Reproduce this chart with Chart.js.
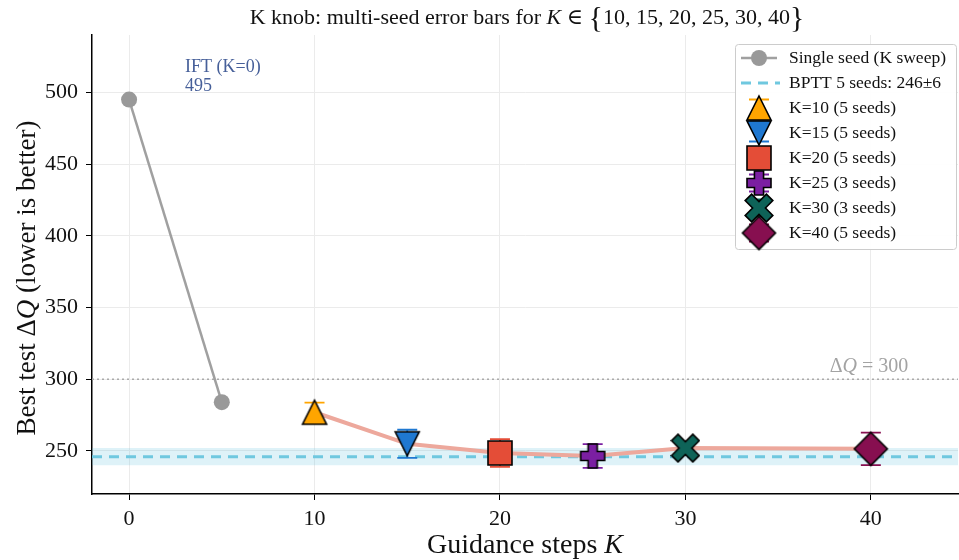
<!DOCTYPE html>
<html>
<head>
<meta charset="utf-8">
<script src="https://cdn.jsdelivr.net/npm/chart.js@4.4.1/dist/chart.umd.min.js"></script>
<style>
html,body{margin:0;padding:0;background:#fff;}
canvas{display:block;}
</style>
</head>
<body>
<canvas id="c" width="959" height="560"></canvas>
<script>
// ---- data ----
const singleK = [0, 5];
const singleQ = [495, 284];
const kValues = [10, 15, 20, 25, 30, 40];
const kMeans = [277, 255, 248.6, 246.5, 252, 251.5];
const kErrs = [6.7, 9.8, 9.6, 8.3, 4, 11.3];
const kSeeds = [5, 5, 5, 3, 3, 5];
const bpttMean = 246;
const bpttStd = 6;
const refLevel = 300;
const iftLabel = 495;
const xTicks = [0, 10, 20, 30, 40];
const yTicks = [250, 300, 350, 400, 450, 500];

// ---- styles ----
const FONT = "'Liberation Serif', 'DejaVu Serif', serif";
const X_MIN = -2, X_MAX = 44.7, Y_MIN = 220, Y_MAX = 540;
const markerStyles = [
  {shape: 'triUp', fill: '#FFA500', size: 24},
  {shape: 'triDown', fill: '#1f78d1', size: 24},
  {shape: 'square', fill: '#e44d37', size: 24},
  {shape: 'plus', fill: '#7b1fa2', size: 24},
  {shape: 'xfill', fill: '#0e6358', size: 24},
  {shape: 'diamond', fill: '#870f50', size: 33}
];

function makeMarker(st) {
  const s = st.size, pad = 3;
  const c = document.createElement('canvas');
  c.width = s + 2 * pad; c.height = s + 2 * pad;
  const g = c.getContext('2d');
  g.translate(c.width / 2, c.height / 2);
  const h = s / 2;
  g.beginPath();
  if (st.shape === 'triUp') {
    g.moveTo(0, -h); g.lineTo(h, h); g.lineTo(-h, h); g.closePath();
  } else if (st.shape === 'triDown') {
    g.moveTo(0, h); g.lineTo(h, -h); g.lineTo(-h, -h); g.closePath();
  } else if (st.shape === 'square') {
    g.rect(-h, -h, s, s);
  } else if (st.shape === 'diamond') {
    g.moveTo(0, -h); g.lineTo(h, 0); g.lineTo(0, h); g.lineTo(-h, 0); g.closePath();
  } else if (st.shape === 'plus' || st.shape === 'xfill') {
    const t = s * 0.19;
    if (st.shape === 'xfill') { g.rotate(Math.PI / 4); }
    const a = st.shape === 'xfill' ? h * 1.25 : h;
    g.moveTo(-t, -a); g.lineTo(t, -a); g.lineTo(t, -t); g.lineTo(a, -t); g.lineTo(a, t);
    g.lineTo(t, t); g.lineTo(t, a); g.lineTo(-t, a); g.lineTo(-t, t); g.lineTo(-a, t);
    g.lineTo(-a, -t); g.lineTo(-t, -t); g.closePath();
  }
  g.fillStyle = st.fill; g.fill();
  g.lineWidth = 1.6; g.strokeStyle = '#000'; g.lineJoin = 'miter'; g.stroke();
  return c;
}
const markerImgs = markerStyles.map(makeMarker);

function drawRuns(ctx, runs, cx, cy, size, color) {
  ctx.save();
  ctx.fillStyle = color;
  ctx.textBaseline = 'middle';
  ctx.textAlign = 'left';
  let total = 0;
  const widths = runs.map(r => {
    ctx.font = (r.it ? 'italic ' : '') + Math.round(size * (r.sc || 1)) + 'px ' + FONT;
    const w = ctx.measureText(r.t).width; total += w; return w;
  });
  let x = cx - total / 2;
  runs.forEach((r, i) => {
    ctx.font = (r.it ? 'italic ' : '') + Math.round(size * (r.sc || 1)) + 'px ' + FONT;
    ctx.fillText(r.t, x, cy + (r.dy || 0));
    x += widths[i];
  });
  ctx.restore();
}

const markerDatasets = kValues.map((k, i) => ({
  label: 'K=' + k + ' (' + kSeeds[i] + ' seeds)',
  data: [{x: k, y: kMeans[i]}],
  showLine: false,
  pointStyle: markerImgs[i],
  pointRadius: 12,
  order: 0,
  isMarker: true,
  errIndex: i
}));

const errorBarPlugin = {
  id: 'errbars',
  beforeDatasetDraw(chart, args) {
    const ds = chart.data.datasets[args.index];
    if (!ds.isMarker) return;
    const i = ds.errIndex;
    const ctx = chart.ctx, xs = chart.scales.x, ys = chart.scales.y;
    const px = xs.getPixelForValue(kValues[i]);
    const y1 = ys.getPixelForValue(kMeans[i] + kErrs[i]);
    const y2 = ys.getPixelForValue(kMeans[i] - kErrs[i]);
    ctx.save();
    ctx.strokeStyle = markerStyles[i].fill;
    ctx.lineWidth = 1.8;
    ctx.beginPath();
    ctx.moveTo(px, y1); ctx.lineTo(px, y2);
    ctx.moveTo(px - 10, y1); ctx.lineTo(px + 10, y1);
    ctx.moveTo(px - 10, y2); ctx.lineTo(px + 10, y2);
    ctx.stroke();
    ctx.restore();
  }
};

const decorPlugin = {
  id: 'decor',
  afterDraw(chart) {
    const ctx = chart.ctx, xs = chart.scales.x, ys = chart.scales.y;
    const ca = chart.chartArea;
    // title
    drawRuns(ctx, [
      {t: 'K knob: multi-seed error bars for '},
      {t: 'K', it: true},
      {t: ' \u2208 '},
      {t: '{', sc: 1.35, dy: 1},
      {t: '10, 15, 20, 25, 30, 40'},
      {t: '}', sc: 1.35, dy: 1}
    ], 527, 18, 22, '#111');
    // x title
    drawRuns(ctx, [{t: 'Guidance steps '}, {t: 'K', it: true}], 525, 546, 28, '#111');
    // y title
    ctx.save();
    ctx.translate(28, 278);
    ctx.rotate(-Math.PI / 2);
    drawRuns(ctx, [{t: 'Best test \u0394'}, {t: 'Q', it: true}, {t: ' (lower is better)'}], 0, 0, 27, '#111');
    ctx.restore();
    // annotations
    ctx.save();
    ctx.fillStyle = '#465f99';
    ctx.font = '18px ' + FONT;
    ctx.textBaseline = 'middle';
    ctx.textAlign = 'left';
    ctx.fillText('IFT (K=0)', 185, 67);
    ctx.fillText(String(iftLabel), 185, 86);
    ctx.restore();
    drawRuns(ctx, [{t: '\u0394'}, {t: 'Q', it: true}, {t: ' = ' + refLevel}], 869, ys.getPixelForValue(refLevel) - 13, 20, '#a3a3a3');
    // legend
    const lx = 735, ly = 44, lw = 221, lh = 205;
    ctx.save();
    ctx.fillStyle = 'rgba(255,255,255,0.92)';
    ctx.strokeStyle = '#cccccc';
    ctx.lineWidth = 1;
    ctx.beginPath();
    ctx.roundRect(lx + 0.5, ly + 0.5, lw, lh, 3);
    ctx.fill(); ctx.stroke();
    const hx = 759, tx = 789, rowH = 25, y0 = 58;
    ctx.font = '17.5px ' + FONT;
    ctx.fillStyle = '#111';
    ctx.textBaseline = 'middle';
    ctx.textAlign = 'left';
    // row 0: single seed
    ctx.strokeStyle = '#a0a0a0'; ctx.lineWidth = 2.5;
    ctx.beginPath(); ctx.moveTo(741, y0); ctx.lineTo(777, y0); ctx.stroke();
    ctx.fillStyle = '#999'; ctx.beginPath(); ctx.arc(hx, y0, 8, 0, Math.PI * 2); ctx.fill();
    ctx.fillStyle = '#111';
    ctx.fillText('Single seed (K sweep)', tx, y0);
    // row 1: BPTT
    const y1 = y0 + rowH;
    ctx.strokeStyle = '#6fc8df'; ctx.lineWidth = 3; ctx.setLineDash([10, 7]);
    ctx.beginPath(); ctx.moveTo(741, y1); ctx.lineTo(780, y1); ctx.stroke();
    ctx.setLineDash([]);
    ctx.fillText('BPTT 5 seeds: ' + bpttMean + '\u00b1' + bpttStd, tx, y1);
    kValues.forEach((k, i) => {
      const yy = y0 + rowH * (i + 2);
      ctx.strokeStyle = markerStyles[i].fill; ctx.lineWidth = 1.8;
      ctx.beginPath();
      ctx.moveTo(hx, yy - 8.5); ctx.lineTo(hx, yy + 8.5);
      ctx.moveTo(hx - 10, yy - 8.5); ctx.lineTo(hx + 10, yy - 8.5);
      ctx.moveTo(hx - 10, yy + 8.5); ctx.lineTo(hx + 10, yy + 8.5);
      ctx.stroke();
      const img = markerImgs[i];
      ctx.drawImage(img, hx - img.width / 2, yy - img.height / 2);
      ctx.fillStyle = '#111';
      ctx.fillText('K=' + k + ' (' + kSeeds[i] + ' seeds)', tx, yy);
    });
    ctx.restore();
  }
};

const datasets = [
  ...markerDatasets,
  {
    label: 'mean',
    data: kValues.map((k, i) => ({x: k, y: kMeans[i]})),
    borderColor: '#eda89c', borderWidth: 4, pointRadius: 0, order: 1, tension: 0
  },
  {
    label: 'Single seed',
    data: singleK.map((k, i) => ({x: k, y: singleQ[i]})),
    borderColor: '#a0a0a0', borderWidth: 2.5, pointRadius: 8,
    pointBackgroundColor: '#999', pointBorderWidth: 0, order: 2
  },
  {
    label: 'BPTT',
    data: [{x: X_MIN, y: bpttMean}, {x: X_MAX, y: bpttMean}],
    borderColor: '#6fc8df', borderWidth: 3, borderDash: [10, 7], pointRadius: 0, order: 3
  },
  {
    label: 'ref',
    data: [{x: X_MIN, y: refLevel}, {x: X_MAX, y: refLevel}],
    borderColor: '#aaaaaa', borderWidth: 1.5, borderDash: [2, 3], pointRadius: 0, order: 4
  },
  {
    label: 'band',
    data: [{x: X_MIN, y: bpttMean + bpttStd}, {x: X_MAX, y: bpttMean + bpttStd}],
    fill: {value: bpttMean - bpttStd},
    backgroundColor: 'rgba(91,192,222,0.2)', borderWidth: 0, pointRadius: 0, order: 5
  }
];

new Chart(document.getElementById('c'), {
  type: 'line',
  data: {datasets},
  options: {
    responsive: false,
    animation: false,
    devicePixelRatio: 1,
    layout: {autoPadding: false, padding: {top: 35, right: 1, left: 0, bottom: 0}},
    plugins: {legend: {display: false}, tooltip: {enabled: false}, title: {display: false}},
    scales: {
      x: {
        type: 'linear', min: X_MIN, max: X_MAX,
        afterBuildTicks: s => { s.ticks = xTicks.map(v => ({value: v})); },
        afterFit: s => { s.height = 66; s.paddingLeft = 0; s.paddingRight = 0; },
        ticks: {font: {family: FONT, size: 22}, color: '#111', padding: 6, maxRotation: 0},
        grid: {color: '#ebebeb', lineWidth: 1, tickColor: '#000', tickLength: 6, drawTicks: true},
        border: {display: true, color: '#000', width: 1.5}
      },
      y: {
        type: 'linear', min: Y_MIN, max: Y_MAX,
        afterBuildTicks: s => { s.ticks = yTicks.map(v => ({value: v})); },
        afterFit: s => { s.width = 92; s.paddingTop = 0; s.paddingBottom = 0; },
        ticks: {font: {family: FONT, size: 22}, color: '#111', padding: 8},
        grid: {color: '#ebebeb', lineWidth: 1, tickColor: '#000', tickLength: 6, drawTicks: true},
        border: {display: true, color: '#000', width: 1.5}
      }
    }
  },
  plugins: [errorBarPlugin, decorPlugin]
});
</script>
</body>
</html>
